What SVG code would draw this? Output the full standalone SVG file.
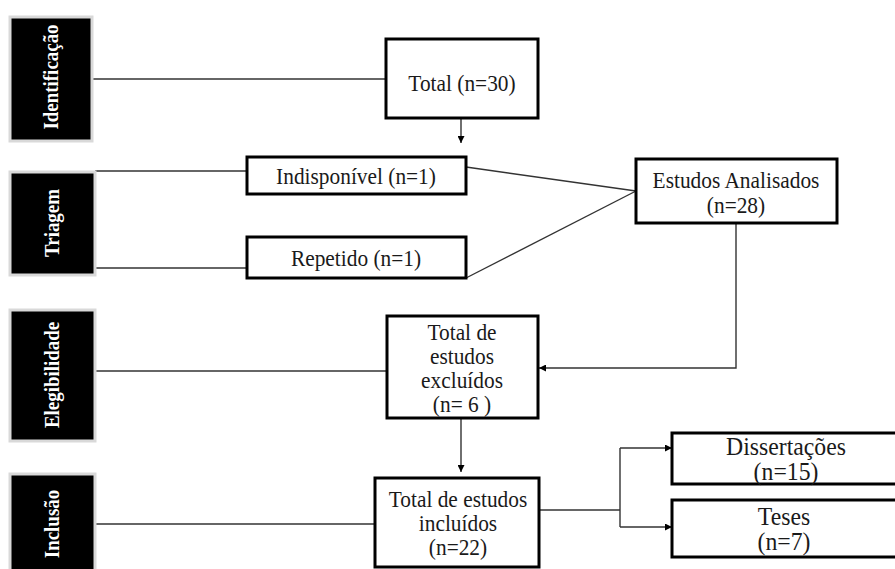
<svg xmlns="http://www.w3.org/2000/svg" width="895" height="569" viewBox="0 0 895 569">
<defs>
<style>
.stage rect{fill:#000;stroke:#d9d9d9;stroke-width:3}
.stage text{fill:#fff;font-family:"Liberation Serif","Times New Roman",serif;font-weight:bold;font-size:21.5px;text-anchor:middle;dominant-baseline:central}
.box rect{fill:#fff;stroke:#000;stroke-width:3}
.box text{fill:#1a1a1a;font-family:"Liberation Serif","Times New Roman",serif;font-size:23px;text-anchor:middle}
.big text{font-size:25px}
#connectors path{fill:none;stroke:#333;stroke-width:1.4}
</style>
<marker id="arr" viewBox="0 0 10 10" refX="10" refY="5" markerWidth="7" markerHeight="7" markerUnits="userSpaceOnUse" orient="auto">
<path d="M0,0 L10,5 L0,10 z" fill="#000"/>
</marker>
</defs>
<rect width="895" height="569" fill="#fff"/>

<g id="connectors">
<path d="M92,79 H386"/>
<path d="M461,118 V143" marker-end="url(#arr)"/>
<path d="M95,171 H247"/>
<path d="M95,268 H247"/>
<path d="M466,167 L636,191"/>
<path d="M466,278 L636,191"/>
<path d="M736,223 V368 H539" marker-end="url(#arr)"/>
<path d="M95,371 H387"/>
<path d="M461,418 V472" marker-end="url(#arr)"/>
<path d="M95,524 H375"/>
<path d="M539,510 H620"/>
<path d="M620,448 V527"/>
<path d="M620,448 H672" marker-end="url(#arr)"/>
<path d="M620,527 H672" marker-end="url(#arr)"/>
</g>

<g id="stage-identificacao" class="stage">
<rect x="10" y="17" width="82" height="124"/>
<text transform="translate(51,77) rotate(-90) scale(0.88,1)">Identificação</text>
</g>
<g id="stage-triagem" class="stage">
<rect x="10" y="172" width="85" height="103"/>
<text transform="translate(52,223) rotate(-90) scale(0.88,1)">Triagem</text>
</g>
<g id="stage-elegibilidade" class="stage">
<rect x="10" y="310" width="85" height="131"/>
<text transform="translate(52,375) rotate(-90) scale(0.88,1)">Elegibilidade</text>
</g>
<g id="stage-inclusao" class="stage">
<rect x="10" y="474" width="85" height="102"/>
<text transform="translate(52,524) rotate(-90) scale(0.88,1)">Inclusão</text>
</g>

<g id="total" class="box">
<rect x="386" y="39" width="152" height="79"/>
<text transform="translate(462,91) scale(0.93,1)">Total (n=30)</text>
</g>
<g id="indisponivel" class="box">
<rect x="247" y="157" width="219" height="37"/>
<text transform="translate(356,184) scale(0.93,1)">Indisponível (n=1)</text>
</g>
<g id="repetido" class="box">
<rect x="247" y="237" width="219" height="41"/>
<text transform="translate(356,266) scale(0.93,1)">Repetido (n=1)</text>
</g>
<g id="analisados" class="box">
<rect x="636" y="159" width="201" height="64"/>
<text transform="translate(736,188) scale(0.93,1)">Estudos Analisados</text>
<text transform="translate(736,213) scale(0.93,1)">(n=28)</text>
</g>
<g id="excluidos" class="box">
<rect x="387" y="316" width="151" height="102"/>
<text transform="translate(462,340) scale(0.93,1)">Total de</text>
<text transform="translate(462,364) scale(0.93,1)">estudos</text>
<text transform="translate(462,388) scale(0.93,1)">excluídos</text>
<text transform="translate(462,412) scale(0.93,1)">(n= 6 )</text>
</g>
<g id="incluidos" class="box">
<rect x="375" y="478" width="164" height="89"/>
<text transform="translate(458,507) scale(0.93,1)">Total de estudos</text>
<text transform="translate(458,531) scale(0.93,1)">incluídos</text>
<text transform="translate(458,555) scale(0.93,1)">(n=22)</text>
</g>
<g id="dissertacoes" class="box big">
<rect x="672" y="433" width="226" height="51"/>
<text transform="translate(786,455) scale(0.95,1)">Dissertações</text>
<text transform="translate(786,480) scale(0.95,1)">(n=15)</text>
</g>
<g id="teses" class="box big">
<rect x="672" y="500" width="226" height="57"/>
<text transform="translate(784,525) scale(0.95,1)">Teses</text>
<text transform="translate(784,550) scale(0.95,1)">(n=7)</text>
</g>
</svg>
